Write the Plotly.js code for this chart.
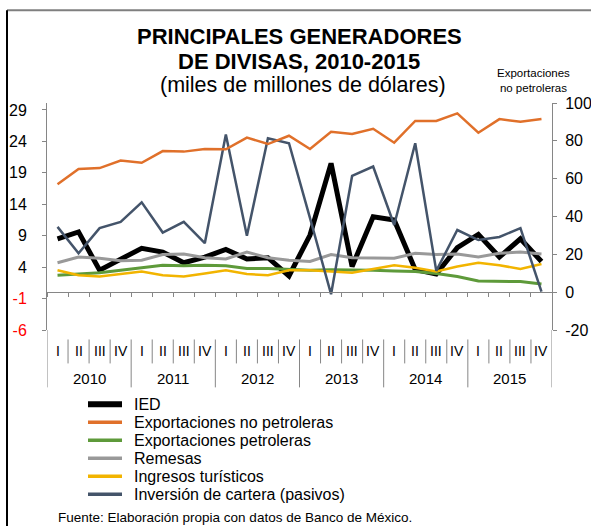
<!DOCTYPE html>
<html>
<head>
<meta charset="utf-8">
<script src="https://cdn.plot.ly/plotly-3.0.1.min.js"></script>
<style>
  html, body { margin: 0; padding: 0; background: #fff; }
  #graph { width: 591px; height: 527px; }
</style>
</head>
<body>
<div id="graph"></div>
<script>
var years = ['2010', '2011', '2012', '2013', '2014', '2015'];
var quarters = ['I', 'II', 'III', 'IV'];

var ied = [8.5, 9.6, 3.5, 5.3, 7.0, 6.4, 4.7, 5.6, 6.8, 5.3, 5.5, 2.6,
           9.1, 20.5, 4.1, 12.0, 11.5, 3.6, 2.9, 7.1, 9.2, 5.6, 8.5, 4.9];
var expNoPetroleras = [57.0, 65.1, 65.6, 69.6, 68.4, 74.6, 74.3, 75.7, 75.5, 81.7, 78.3, 82.7,
                       75.7, 84.8, 83.6, 86.4, 79.0, 90.5, 90.5, 94.5, 84.3, 91.5, 90.1, 91.5];
var expPetroleras = [2.7, 2.9, 3.1, 3.5, 3.9, 4.3, 4.2, 4.3, 4.2, 3.8, 3.8, 3.7,
                     3.5, 3.6, 3.6, 3.5, 3.4, 3.3, 3.0, 2.5, 1.8, 1.8, 1.7, 1.3];
var remesas = [4.7, 5.6, 5.4, 5.0, 5.1, 6.0, 6.1, 5.5, 5.3, 6.4, 5.5, 5.1,
               4.9, 6.0, 5.5, 5.4, 5.4, 6.2, 6.0, 6.1, 5.6, 6.2, 6.4, 6.1];
var turismo = [3.5, 2.7, 2.5, 2.9, 3.3, 2.7, 2.5, 3.0, 3.5, 2.9, 2.7, 3.5,
               3.5, 3.3, 3.1, 3.7, 4.3, 3.9, 3.3, 4.1, 4.7, 4.3, 3.7, 4.5];
var cartera = [10.4, 6.2, 10.2, 11.2, 14.3, 9.5, 11.2, 7.8, 25.1, 9.0, 24.5, 23.7,
               11.8, -0.3, 18.5, 20.0, 10.7, 23.7, 3.4, 9.9, 8.3, 8.8, 10.2, 0.1];

var leftTicks = [-6, -1, 4, 9, 14, 19, 24, 29];
var rightTicks = [-20, 0, 20, 40, 60, 80, 100];

var series = [
  {name: 'IED', y: ied, color: '#000000', width: 5, axis: 'y'},
  {name: 'Exportaciones no petroleras', y: expNoPetroleras, color: '#E0702A', width: 2.5, axis: 'y2'},
  {name: 'Exportaciones petroleras', y: expPetroleras, color: '#5E9A3A', width: 3, axis: 'y'},
  {name: 'Remesas', y: remesas, color: '#999999', width: 3, axis: 'y'},
  {name: 'Ingresos turísticos', y: turismo, color: '#F2B400', width: 2.5, axis: 'y'},
  {name: 'Inversión de cartera (pasivos)', y: cartera, color: '#44546A', width: 2.5, axis: 'y'}
];

var n = ied.length;
var xs = [];
for (var i = 0; i < n; i++) xs.push(i);

// plot area in pixels (for converting outside decorations to paper units)
var L = 47, T = 103, W = 505, H = 227.5;
function px(x) { return (x - L) / W; }
function py(y) { return (T + H - y) / H; }

var font = 'Liberation Sans, Arial, sans-serif';
var gray = '#868686';

var data = series.map(function(s) {
  return {
    x: xs, y: s.y, yaxis: s.axis, type: 'scatter', mode: 'lines',
    name: s.name, showlegend: false,
    line: {color: s.color, width: s.width, shape: 'linear'}
  };
});

var shapes = [];
var annotations = [];

function label(xref, x, y, text, size, extra) {
  var a = {xref: xref, yref: 'paper', x: x, y: y, text: text, showarrow: false,
    xanchor: 'center', yanchor: 'middle', font: {family: font, size: size, color: '#000'}};
  for (var k in extra) a[k] = extra[k];
  annotations.push(a);
}

// category boundaries
var bounds = [];
for (var i = 0; i <= n; i++) bounds.push(i - 0.5);

// separators in label area
for (var i = 1; i < n; i++) {
  var isYear = (i % 4 === 0);
  shapes.push({type: 'line', xref: 'x', yref: 'paper', x0: i - 0.5, x1: i - 0.5,
    y0: py(340), y1: isYear ? py(388) : py(364), line: {color: gray, width: 1}});
}
// axis extensions down through label area
shapes.push({type: 'line', xref: 'x', yref: 'paper', x0: -0.5, x1: -0.5, y0: 0, y1: py(388), line: {color: gray, width: 1}});
shapes.push({type: 'line', xref: 'x', yref: 'paper', x0: n - 0.5, x1: n - 0.5, y0: 0, y1: py(388), line: {color: gray, width: 1}});

// quarter and year labels
for (var i = 0; i < n; i++) label('x', i, py(352), quarters[i % 4], 14);
years.forEach(function(yr, k) { label('x', k * 4 + 1.5, py(379), yr, 15); });

// titles
label('paper', px(299), py(36), '<b>PRINCIPALES GENERADORES</b>', 22);
label('paper', px(299), py(61), '<b>DE DIVISAS, 2010-2015</b>', 22);
label('paper', px(303), py(85), '(miles de millones de dólares)', 21.5);
label('paper', px(533), py(80), 'Exportaciones<br>no petroleras', 11.5);

// legend
series.forEach(function(s, k) {
  var yy = 405 + 18 * k;
  shapes.push({type: 'line', xref: 'paper', yref: 'paper', x0: px(88), x1: px(122), y0: py(yy), y1: py(yy),
    line: {color: s.color, width: k === 0 ? 6 : 3.5}});
  label('paper', px(132), py(yy), s.name, 16, {xanchor: 'left'});
});

label('paper', px(56), py(518), 'Fuente: Elaboración propia con datos de Banco de México.', 13.5, {xanchor: 'left'});

// frame
shapes.push({type: 'line', xref: 'paper', yref: 'paper', x0: px(7), x1: px(591), y0: py(10), y1: py(10), line: {color: '#7f7f7f', width: 2}});
shapes.push({type: 'line', xref: 'paper', yref: 'paper', x0: px(7), x1: px(7), y0: py(10), y1: py(527), line: {color: '#000', width: 2}});

var leftMin = -6, leftMax = 30.1;

var layout = {
  width: 591, height: 527,
  margin: {l: L, r: 591 - L - W, t: T, b: 527 - T - H},
  paper_bgcolor: '#fff', plot_bgcolor: 'rgba(0,0,0,0)',
  font: {family: font, color: '#000'},
  showlegend: false,
  xaxis: {
    range: [-0.5, n - 0.5], anchor: 'free', position: (0 - leftMin) / (leftMax - leftMin),
    showline: true, linecolor: gray, linewidth: 1,
    ticks: 'outside', tickvals: bounds, ticklen: 4, tickcolor: gray,
    showticklabels: false, showgrid: false, zeroline: false
  },
  yaxis: {
    range: [leftMin, leftMax], tickvals: leftTicks,
    ticktext: leftTicks.map(function(v) { return v < 0 ? '<span style="color:#ff0000">' + v + '</span>' : String(v); }),
    ticks: 'outside', ticklen: 4, tickcolor: gray, ticklabelstandoff: 12,
    showline: true, linecolor: gray, linewidth: 1,
    showgrid: false, zeroline: false,
    tickfont: {family: font, size: 16, color: '#000'}
  },
  yaxis2: {
    overlaying: 'y', side: 'right', range: [-20, 100], tickvals: rightTicks,
    ticktext: rightTicks.map(String),
    ticks: 'outside', ticklen: 4, tickcolor: gray, ticklabelstandoff: 5,
    showline: true, linecolor: gray, linewidth: 1,
    showgrid: false, zeroline: false,
    tickfont: {family: font, size: 16, color: '#000'}
  },
  shapes: shapes,
  annotations: annotations
};

Plotly.newPlot('graph', data, layout, {staticPlot: true});
</script>
</body>
</html>
